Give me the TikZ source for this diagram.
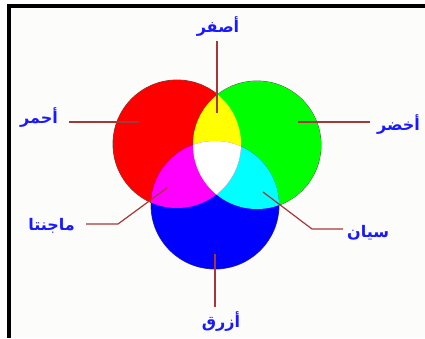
\documentclass[tikz,border=0pt]{standalone}
\usepackage{fontspec}
\usepackage{tikz}
\usetikzlibrary{positioning,calc}
\TeXXeTstate=1
\newfontfamily\arabicfont[Script=Arabic]{DejaVu Sans}
\definecolor{labelblue}{RGB}{25,25,255}
\definecolor{leaderred}{RGB}{165,55,55}
\definecolor{paper}{RGB}{252,253,251}
\definecolor{addred}{RGB}{255,0,0}
\definecolor{addgreen}{RGB}{0,255,0}
\definecolor{addblue}{RGB}{0,0,255}
\definecolor{addyellow}{RGB}{255,255,0}
\definecolor{addmagenta}{RGB}{255,0,255}
\definecolor{addcyan}{RGB}{0,255,255}

\begin{document}
\begin{tikzpicture}[x=1pt,y=-1pt,
 lbl/.style={text=labelblue,font=\arabicfont\bfseries\fontsize{16}{18}\selectfont,inner sep=0pt},
 leader/.style={leaderred,line width=1.2pt},
 rim/.style={draw=black!70,line width=0.8pt}
]
\useasboundingbox (0,0) rectangle (425,338);
\fill[white] (0,0) rectangle (425,338);
\fill[paper] (11,8) rectangle (425,338);
\fill[black] (7,4) rectangle (425,8);
\fill[black] (7,4) rectangle (11,338);
\coordinate (redc) at (177,144);
\coordinate (greenc) at (257,145);
\coordinate (bluec) at (215,205);
\draw[rim] (redc) circle (64);
\draw[rim] (greenc) circle (64);
\draw[rim] (bluec) circle (64);
\fill[addred] (redc) circle (64);
\fill[addgreen] (greenc) circle (64);
\fill[addblue] (bluec) circle (64);
\begin{scope}
 \clip (greenc) circle (64);
 \fill[addcyan] (bluec) circle (64);
\end{scope}
\begin{scope}
 \clip (redc) circle (64);
 \fill[addyellow] (greenc) circle (64);
 \fill[addmagenta] (bluec) circle (64);
 \clip (greenc) circle (64);
 \fill[white] (bluec) circle (64);
\end{scope}
\coordinate (yellowpt) at (217,113);
\coordinate (redpt) at (139,122);
\coordinate (greenpt) at (298,122);
\coordinate (magentapt) at (167,188);
\coordinate (magentabend) at (118,224);
\coordinate (cyanpt) at (263,192);
\coordinate (cyanbend) at (312,229);
\coordinate (bluept) at (215,254);
\node[lbl] (yellowlbl) at (218,27) {\beginR أصفر\endR};
\node[lbl,anchor=east] (redlbl) at (58,118) {\beginR أحمر\endR};
\node[lbl,anchor=west] (greenlbl) at (377,125) {\beginR أخضر\endR};
\node[lbl,anchor=east] (magentalbl) at (75,226) {\beginR ماجنتا\endR};
\node[lbl,anchor=west] (cyanlbl) at (347,233) {\beginR سيان\endR};
\node[lbl] (bluelbl) at (221,321) {\beginR أزرق\endR};
\draw[leader,shorten <=4pt] (yellowlbl.south -| yellowpt) -- (yellowpt);
\draw[leader,shorten <=11pt] (redlbl.east |- redpt) -- (redpt);
\draw[leader,shorten <=7pt] (greenlbl.west |- greenpt) -- (greenpt);
\draw[leader,shorten <=11pt] (magentalbl.east |- magentabend) -- (magentabend) -- (magentapt);
\draw[leader,shorten <=4pt] (cyanlbl.west |- cyanbend) -- (cyanbend) -- (cyanpt);
\draw[leader,shorten <=4pt] (bluelbl.north -| bluept) -- (bluept);
\end{tikzpicture}
\end{document}
